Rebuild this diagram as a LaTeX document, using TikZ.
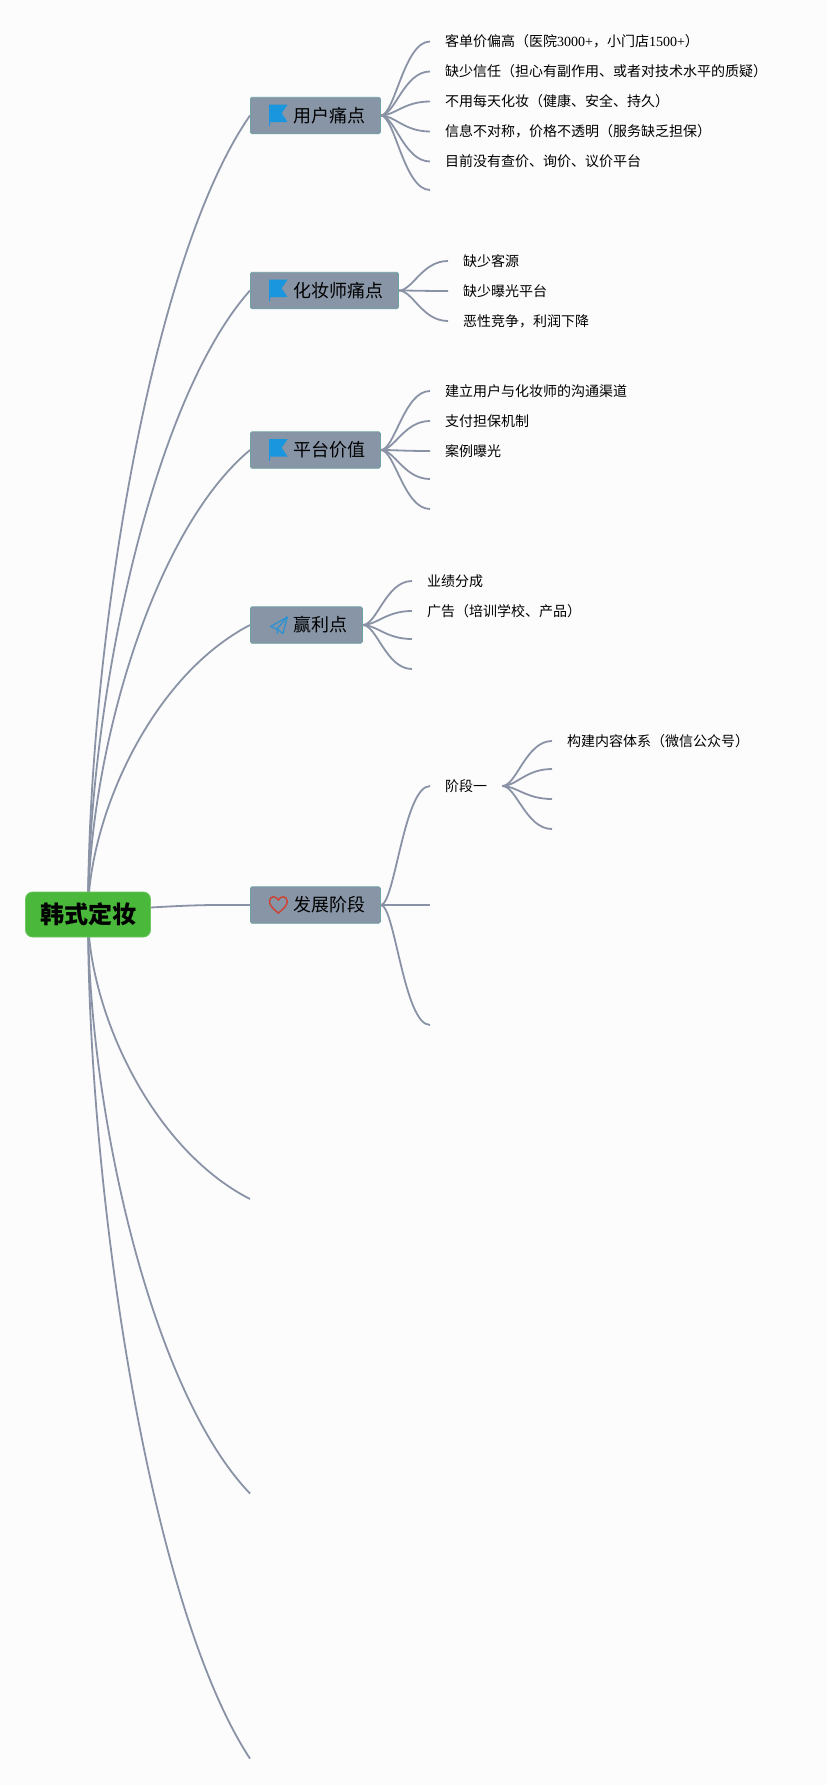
\documentclass[tikz,border=0pt]{standalone}
\usepackage{fontspec}
\setmainfont{Noto Sans CJK SC}
\newfontfamily\latn{Liberation Serif}
\usetikzlibrary{backgrounds}
\definecolor{pagebg}{HTML}{FCFCFD}
\definecolor{linegray}{HTML}{8A93A6}
\definecolor{boxgray}{HTML}{8795A7}
\definecolor{boxedge}{HTML}{6FA3A3}
\definecolor{rootgreen}{HTML}{4AB83A}
\definecolor{flagblue}{HTML}{1A96DE}
\definecolor{planeblue}{HTML}{2E92D0}
\definecolor{heartred}{HTML}{D0402F}
\tikzset{
  rootnode/.style={draw=rootgreen!80!white, fill=rootgreen, rounded corners=7pt, line width=.8pt,
    minimum width=125pt, minimum height=45pt, inner sep=0pt, font=\fontsize{24}{24}\selectfont\bfseries},
  topic/.style={draw=boxedge, fill=boxgray, rounded corners=1.5pt, line width=.8pt, anchor=west,
    minimum height=36.5pt, inner xsep=15pt, inner ysep=0pt, font=\fontsize{18}{18}\selectfont},
  leaf/.style={anchor=west, inner xsep=15pt, inner ysep=0pt, font=\fontsize{14}{14}\selectfont},
  branch/.style={draw=linegray, line width=1.8pt},
  twig/.style={out=0, in=180, out distance=14pt, in distance=26pt}
}
\newcommand\IconGap{\hspace*{28pt}}
\newcommand\FlagIcon[1]{\fill[flagblue,shift={(#1.west)}] (19,-11) -- (37.7,-11) -- (31.7,-2.3) -- (37.7,6.7) -- (20,6.7) -- (20,10.7) -- (19,10.7) -- cycle;}
\begin{document}
\begin{tikzpicture}[x=1pt,y=-1pt]
  \useasboundingbox (0,0) rectangle (827,1785);

  \node[rootnode] (root) at (88,914.5) {韩式定妆};

  \node[topic] (pain) at (250,115.5) {\IconGap 用户痛点};
  \node[topic] (artist) at (250,290.5) {\IconGap 化妆师痛点};
  \node[topic] (value) at (250,450) {\IconGap 平台价值};
  \node[topic] (profit) at (250,625) {\IconGap 赢利点};
  \node[topic] (stage) at (250,905) {\IconGap 发展阶段};

  \coordinate (empty6) at (250,1199);
  \coordinate (empty7) at (250,1493.5);
  \coordinate (empty8) at (250,1758.6);

  % pain points
  \node[leaf] (pain1) at (430,41.5) {客单价偏高（医院{\latn 3000+}，小门店{\latn 1500+}）};
  \node[leaf] (pain2) at (430,71.5) {缺少信任（担心有副作用、或者对技术水平的质疑）};
  \node[leaf] (pain3) at (430,101.5) {不用每天化妆（健康、安全、持久）};
  \node[leaf] (pain4) at (430,131.5) {信息不对称，价格不透明（服务缺乏担保）};
  \node[leaf] (pain5) at (430,161.5) {目前没有查价、询价、议价平台};
  \coordinate (pain6) at (430,190);

  \node[leaf] (artist1) at (448,261) {缺少客源};
  \node[leaf] (artist2) at (448,291) {缺少曝光平台};
  \node[leaf] (artist3) at (448,321) {恶性竞争，利润下降};

  \node[leaf] (value1) at (430,391) {建立用户与化妆师的沟通渠道};
  \node[leaf] (value2) at (430,421) {支付担保机制};
  \node[leaf] (value3) at (430,451) {案例曝光};
  \coordinate (value4) at (430,479);
  \coordinate (value5) at (430,509);

  \node[leaf] (profit1) at (412,581) {业绩分成};
  \node[leaf] (profit2) at (412,611) {广告（培训学校、产品）};
  \coordinate (profit3) at (412,639);
  \coordinate (profit4) at (412,669);

  \node[leaf] (stage1) at (430,786) {阶段一};
  \coordinate (stage2) at (430,905);
  \coordinate (stage3) at (430,1025);

  \node[leaf] (plan1) at (552,741) {构建内容体系（微信公众号）};
  \coordinate (plan2) at (552,769);
  \coordinate (plan3) at (552,799);
  \coordinate (plan4) at (552,829);

  \FlagIcon{pain}
  \FlagIcon{artist}
  \FlagIcon{value}
  \begin{scope}[shift={(profit.west)}, line width=1.3pt, line join=round]
    \draw[planeblue] (37.3,-8) -- (20.7,1.5) -- (27,4) -- (33,8.5) -- cycle;
    \draw[planeblue] (37.3,-8) -- (27,4) -- (27.5,9);
  \end{scope}
  \draw[heartred, line width=1.4pt, shift={(stage.west)}] (28.3,8) .. controls (22,3) and (19.5,0) .. (19.5,-3.5)
    .. controls (19.5,-9.5) and (26,-9.5) .. (28.3,-5) .. controls (30.6,-9.5) and (37.2,-9.5) .. (37.2,-3.5)
    .. controls (37.2,0) and (34.6,3) .. (28.3,8) -- cycle;

  \begin{scope}[on background layer]
    \fill[pagebg] (0,0) rectangle (827,1785);
    % main branches
    \draw[branch] (root.center) .. controls (88,650.8) and (150,259.3) .. (pain.west);
    \draw[branch] (root.center) .. controls (88,708.6) and (150,402.8) .. (artist.west);
    \draw[branch] (root.center) .. controls (88,761.2) and (150,533.6) .. (value.west);
    \draw[branch] (root.center) .. controls (88,819) and (150,677) .. (profit.west);
    \draw[branch] ([yshift=7pt]root.east) to[bend left=2] (stage.west);
    \draw[branch] (root.center) .. controls (88,1008.4) and (150,1147.8) .. (empty6);
    \draw[branch] (root.center) .. controls (88,1105.6) and (150,1389.3) .. (empty7);
    \draw[branch] (root.center) .. controls (88,1193) and (150,1606.7) .. (empty8);
    % twigs
    \foreach \n in {pain1,pain2,pain3,pain4,pain5}
      \draw[branch] (pain.east) to[twig] (\n.west);
    \draw[branch] (pain.east) to[twig] (pain6);
    \foreach \n in {artist1,artist2,artist3}
      \draw[branch] (artist.east) to[twig] (\n.west);
    \foreach \n in {value1,value2,value3}
      \draw[branch] (value.east) to[twig] (\n.west);
    \foreach \n in {value4,value5}
      \draw[branch] (value.east) to[twig] (\n);
    \foreach \n in {profit1,profit2}
      \draw[branch] (profit.east) to[twig] (\n.west);
    \foreach \n in {profit3,profit4}
      \draw[branch] (profit.east) to[twig] (\n);
    \draw[branch] (stage.east) to[twig] (stage1.west);
    \draw[branch] (stage.east) to[twig] (stage2);
    \draw[branch] (stage.east) to[twig] (stage3);
    \draw[branch] (stage1.east) to[twig] (plan1.west);
    \foreach \n in {plan2,plan3,plan4}
      \draw[branch] (stage1.east) to[twig] (\n);
  \end{scope}
\end{tikzpicture}
\end{document}
